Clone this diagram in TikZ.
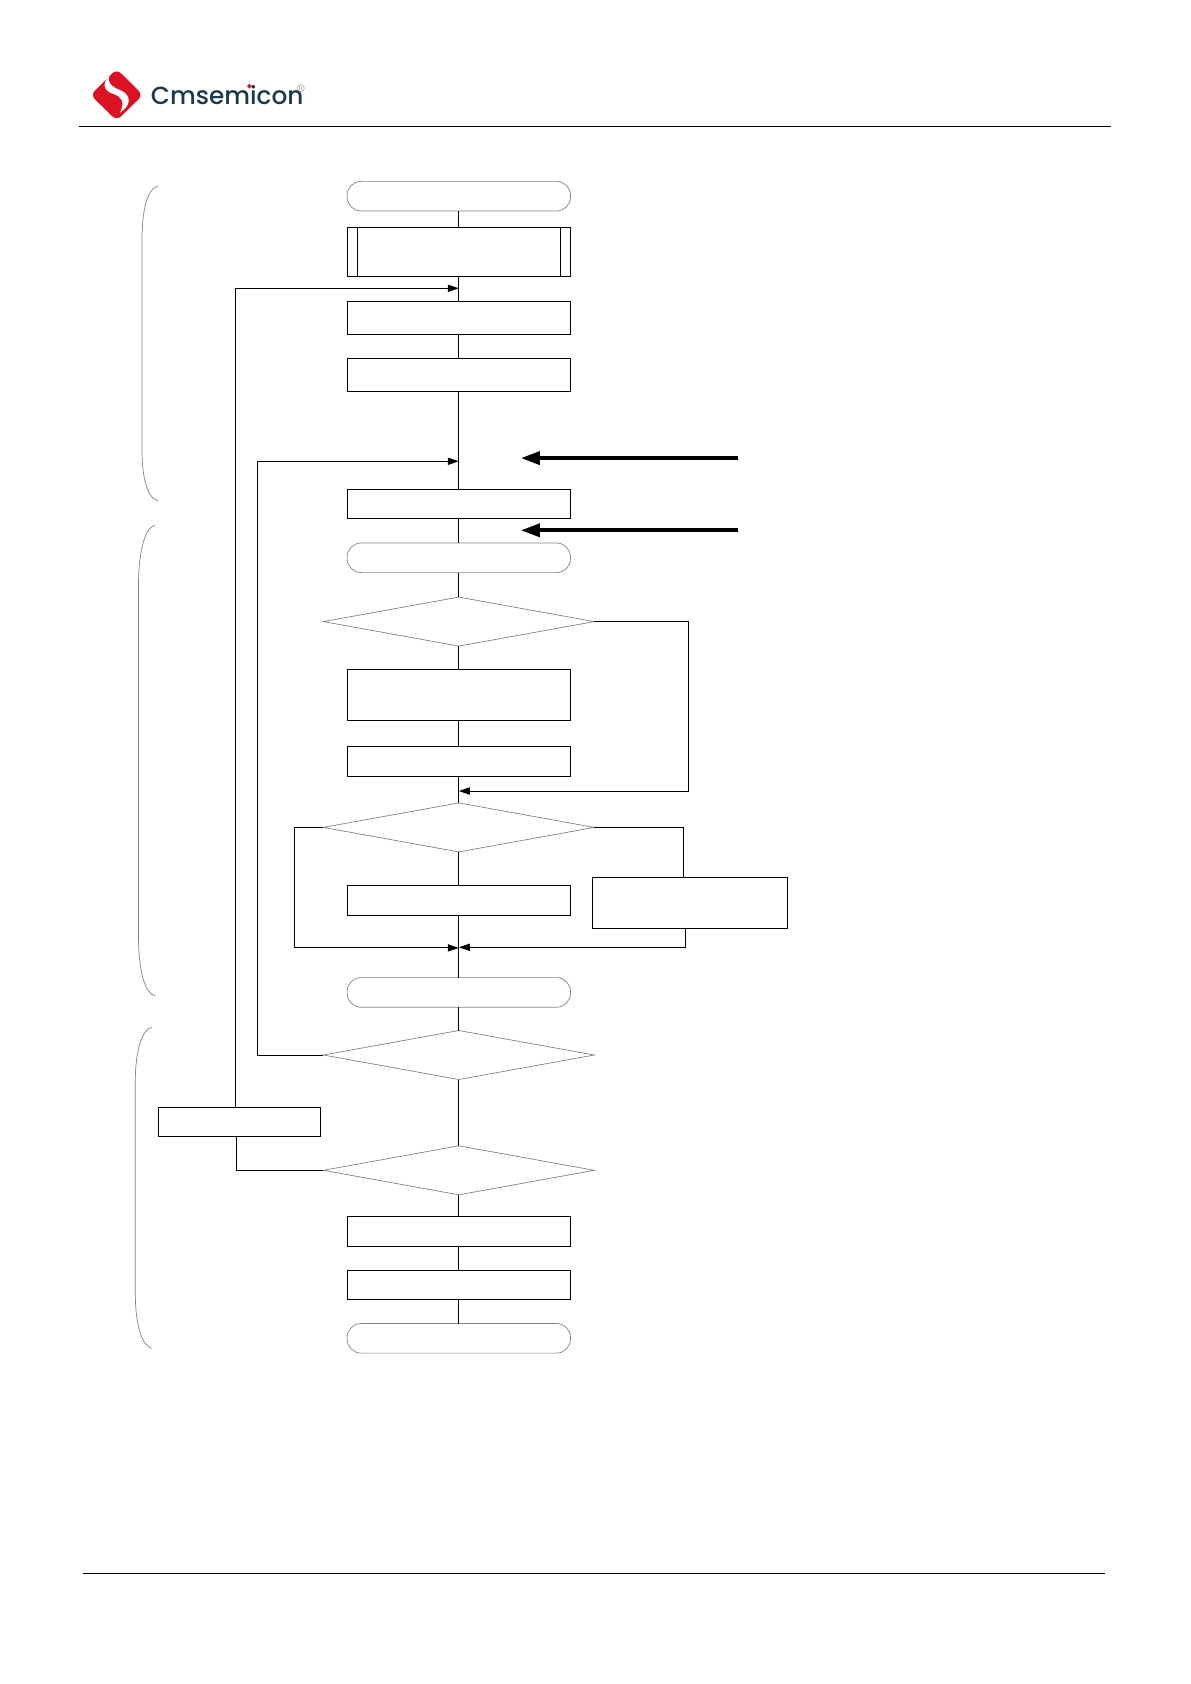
\documentclass[tikz,border=0pt]{standalone}
\usepackage{fontspec}
\usepackage{xcolor}
\usepackage{tikz}
\usetikzlibrary{positioning, arrows.meta, shapes.geometric}
\newfontfamily\logofont{Poppins Medium}
\definecolor{logored}{RGB}{218,18,36}
\definecolor{logonavy}{RGB}{28,56,80}
\definecolor{softline}{RGB}{130,130,130}
\tikzset{
  flowbox/.style={rectangle, draw=black, line width=.5pt, outer sep=0pt, minimum width=111.7pt, inner sep=0pt},
  subbox/.style={flowbox, minimum height=24.5pt},
  termbox/.style={rectangle, rounded corners=7pt, draw=softline, line width=.35pt, outer sep=0pt, minimum width=111.7pt, minimum height=14.8pt, inner sep=0pt},
  decbox/.style={diamond, draw=softline, line width=.35pt, outer sep=0pt, minimum width=135.5pt, minimum height=24.5pt, inner sep=0pt, aspect=5.5},
  link/.style={draw=black, line width=.5pt},
  into/.style={link, -{Triangle[length=5.5pt,width=3.6pt]}},
  bigarrow/.style={draw=black, line width=2pt, -{Triangle[length=9.5pt,width=6.4pt]}},
  bracket/.style={draw=softline, line width=.35pt},
  rule/.style={draw=black, line width=.6pt},
}
\begin{document}
\begin{tikzpicture}[x=.5pt, y=-.5pt]
  \useasboundingbox (0,0) rectangle (1190,1684);
  % page header and footer
  \draw[rule] (79,126.3) -- (1110.5,126.3);
  \draw[rule] (83,1573.6) -- (1105,1573.6);
  \fill[logored, rounded corners=3pt] (90.5,95) -- (116.7,69) -- (142.9,95) -- (116.7,120.6) -- cycle;
  \begin{scope}[shift={(70,50)}, x=.1667pt, y=-.1667pt]
    \fill[white] (118,78) .. controls (95,100) and (100,122) .. (130,132)
      .. controls (155,140) and (165,155) .. (150,188)
      .. controls (185,165) and (185,135) .. (150,120)
      .. controls (125,110) and (112,100) .. (118,78) -- cycle;
    \fill[logored] (538,101) -- (545,108) -- (538,116) -- (531,108) -- cycle;
  \end{scope}
  \node[anchor=base west, inner sep=0pt, text=logonavy, font=\logofont\fontsize{12.4}{13}\selectfont] (brand) at (150.5,105) {Cmsemicon};
  \node[anchor=center, inner sep=0pt, text=softline, font=\fontsize{5.5}{5.5}\selectfont] (mark) at (301,88.5) {\textregistered};

  % main column
  \node[termbox] (T0) at (458.8,196.2) {};
  \node[subbox, below=8.15pt of T0] (P0) {};
  \node[flowbox, minimum height=16.5pt, below=12.5pt of P0] (B1) {};
  \node[flowbox, minimum height=16.5pt, below=12pt of B1] (B2) {};
  \node[flowbox, minimum height=14.5pt, below=49pt of B2] (B3) {};
  \node[termbox, below=12.35pt of B3] (T1) {};
  \node[decbox, below=12.25pt of T1] (D1) {};
  \node[flowbox, minimum height=25.3pt, below=11.75pt of D1] (B4) {};
  \node[flowbox, minimum height=15pt, below=12.9pt of B4] (B5) {};
  \node[decbox, below=13.45pt of B5] (D2) {};
  \node[flowbox, minimum height=15pt, below=17pt of D2] (B6) {};
  \node[termbox, below=30.85pt of B6] (T2) {};
  \node[decbox, below=11.65pt of T2] (D3) {};
  \node[decbox, below=33.15pt of D3] (D4) {};
  \node[flowbox, minimum height=15pt, below=10.65pt of D4] (B8) {};
  \node[flowbox, minimum height=14.5pt, below=12pt of B8] (B9) {};
  \node[termbox, below=12.2pt of B9] (T3) {};
  % side boxes
  \node[flowbox, minimum width=97.65pt, minimum height=25.3pt] (B7) at (690,902.8) {};
  \node[flowbox, minimum width=81.2pt, minimum height=14.5pt] (B10) at (239.5,1121.8) {};

  % bars of the subroutine box
  \draw[link] ([xshift=5.2pt]P0.north west) -- ([xshift=5.2pt]P0.south west);
  \draw[link] ([xshift=-5.2pt]P0.north east) -- ([xshift=-5.2pt]P0.south east);

  \coordinate[below=6pt of P0] (backA);
  \coordinate[below=35pt of B2] (backB);
  \coordinate[below=7.5pt of B5] (joinC);
  \coordinate[below=16pt of B6] (merge);
  \coordinate[right=31pt of backB, yshift=1.6pt] (tipA);
  \coordinate[right=139.5pt of backB, yshift=1.6pt] (tailA);
  \coordinate[below=6pt of B3, xshift=31pt] (tipB);
  \coordinate[below=6pt of B3, xshift=139.5pt] (tailB);

  \draw[link] (T0) -- (P0);
  \draw[link] (P0) -- (B1);
  \draw[link] (B1) -- (B2);
  \draw[link] (B2) -- (B3);
  \draw[link] (B3) -- (T1);
  \draw[link] (T1) -- (D1);
  \draw[link] (D1) -- (B4);
  \draw[link] (B4) -- (B5);
  \draw[link] (B5) -- (D2);
  \draw[link] (D2) -- (B6);
  \draw[link] (B6) -- (T2);
  \draw[link] (T2) -- (D3);
  \draw[link] (D3) -- (D4);
  \draw[link] (D4) -- (B8);
  \draw[link] (B8) -- (B9);
  \draw[link] (B9) -- (T3);

  \draw[into] (D1.east) -- ++(46.85pt,0) |- (joinC);
  \draw[into] (D2.west) -- ++(-14.4pt,0) |- (merge);
  \draw[link] (D2.east) -| ([xshift=-3.4pt]B7.north);
  \draw[into] ([xshift=-2.2pt]B7.south) |- ([yshift=.3pt]merge);
  \draw[into] (D3.west) -- ++(-33pt,0) |- (backB);
  \draw[link] (D4.west) -| ([xshift=-1.6pt]B10.south);
  \draw[into] ([xshift=-1.9pt]B10.north) |- (backA);

  \draw[bigarrow] (tailA) -- (tipA);
  \draw[bigarrow] (tailB) -- (tipB);

  % group brackets
  \draw[bracket] (158,186) .. controls (149,188) and (142,205) .. (142,240) -- (142,450) .. controls (142,482) and (149,499) .. (158,500.7);
  \draw[bracket] (155,525.3) .. controls (146,527) and (138.5,548) .. (138.5,585) -- (138.5,935) .. controls (138.5,975) and (146,994) .. (155,995.6);
  \draw[bracket] (151.7,1027.3) .. controls (143,1029) and (135.3,1048) .. (135.3,1082) -- (135.3,1293) .. controls (135.3,1328) and (143,1346) .. (151.7,1348.3);
\end{tikzpicture}
\end{document}
